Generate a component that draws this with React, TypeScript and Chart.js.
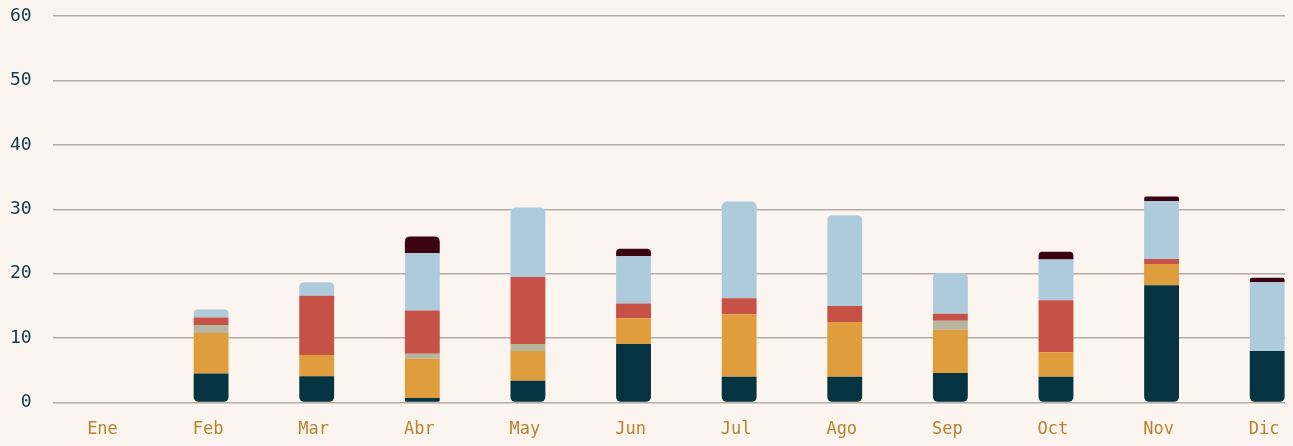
import React, { useEffect, useRef } from "react";
import { Chart, registerables } from "chart.js";

Chart.register(...registerables);

const months = ["Ene", "Feb", "Mar", "Abr", "May", "Jun", "Jul", "Ago", "Sep", "Oct", "Nov", "Dic"];

// stacked segments, bottom to top
const serieTeal = [0, 4.5, 4.1, 0.7, 3.4, 9.1, 4.0, 4.0, 4.6, 4.0, 18.2, 8.0];
const serieOrange = [0, 6.3, 3.3, 6.1, 4.6, 4.0, 9.7, 8.5, 6.7, 3.8, 3.3, 0];
const serieGray = [0, 1.25, 0, 0.8, 1.1, 0, 0, 0, 1.4, 0, 0, 0];
const serieRed = [0, 1.15, 9.2, 6.7, 10.4, 2.3, 2.5, 2.5, 1.1, 8.1, 0.8, 0];
const serieBlue = [0, 1.25, 2.1, 8.9, 10.8, 7.3, 15.0, 14.1, 6.3, 6.3, 9.0, 10.7];
const serieMaroon = [0, 0, 0, 2.6, 0, 1.2, 0, 0, 0, 1.2, 0.7, 0.7];

const yTicks = [0, 10, 20, 30, 40, 50, 60];

export default function App() {
  const ref = useRef<HTMLCanvasElement>(null);

  useEffect(() => {
    document.documentElement.style.overflow = "hidden";
    document.body.style.overflow = "hidden";
    document.body.style.background = "#fbf4ef";
    const common = { barPercentage: 0.33, categoryPercentage: 1, borderWidth: 0 };
    const chart = new Chart(ref.current!, {
      type: "bar",
      data: {
        labels: months,
        datasets: [
          {
            ...common,
            label: "A",
            data: serieTeal.map((v) => [0, v]) as any,
            backgroundColor: "#04343f",
            borderSkipped: false,
            borderRadius: { topLeft: 0, topRight: 0, bottomLeft: 5, bottomRight: 5 },
          },
          { ...common, label: "B", data: serieOrange, backgroundColor: "#e09d3e", borderRadius: 5 },
          { ...common, label: "C", data: serieGray, backgroundColor: "#b6b59d", borderRadius: 5 },
          { ...common, label: "D", data: serieRed, backgroundColor: "#c55147", borderRadius: 5 },
          { ...common, label: "E", data: serieBlue, backgroundColor: "#aecbdc", borderRadius: 5 },
          { ...common, label: "F", data: serieMaroon, backgroundColor: "#3c0410", borderRadius: 5 },
        ],
      },
      options: {
        animation: false,
        responsive: true,
        maintainAspectRatio: false,
        layout: { padding: { top: 0, bottom: 6, left: 2, right: 0 } },
        plugins: { legend: { display: false }, tooltip: { enabled: false } },
        scales: {
          x: {
            stacked: true,
            grid: { display: false, drawTicks: true, tickLength: 17 },
            border: { display: false },
            ticks: {
              color: "#b8842f",
              font: { family: "DejaVu Sans Mono", size: 17 },
              padding: 0,
              labelOffset: -3,
            },
          },
          y: {
            stacked: true,
            min: yTicks[0],
            max: yTicks[yTicks.length - 1],
            afterBuildTicks: (scale: any) => {
              scale.ticks = yTicks.map((v) => ({ value: v }));
            },
            ticks: {
              color: "#0f3c4a",
              font: { family: "DejaVu Sans Mono", size: 18, lineHeight: 0.9 },
              padding: 0,
            },
            grid: {
              color: "rgba(165,160,155,0.85)",
              lineWidth: 1.5,
              drawTicks: true,
              tickLength: 21,
              tickColor: "rgba(0,0,0,0)",
            },
            border: { display: false },
          },
        },
      },
    });
    return () => chart.destroy();
  }, []);

  return (
    <div style={{ width: "100%", height: 438, overflow: "hidden" }}>
      <div style={{ width: 1312, height: 438, position: "relative" }}>
        <canvas ref={ref} />
      </div>
    </div>
  );
}
